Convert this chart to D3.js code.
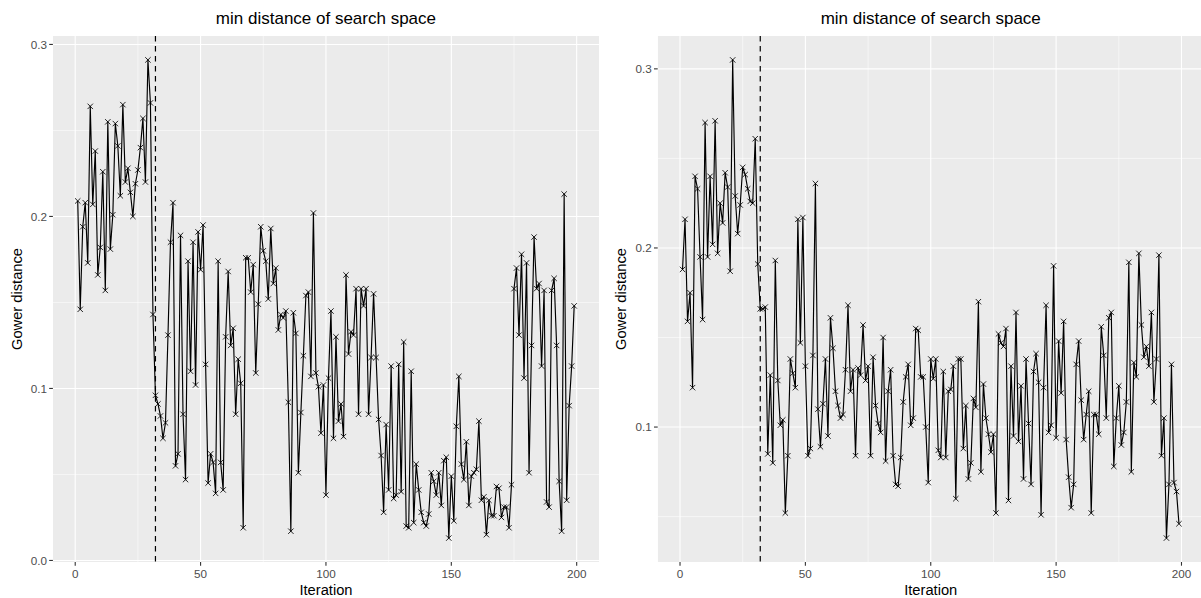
<!DOCTYPE html>
<html>
<head>
<meta charset="utf-8">
<script src="https://cdn.jsdelivr.net/npm/d3@7"></script>
<style>
  html, body { margin: 0; padding: 0; background: #ffffff; }
  svg { display: block; font-family: "Liberation Sans", Arial, sans-serif; }
</style>
</head>
<body>
<svg id="chart" width="1201" height="598"></svg>
<script>
// Minimum Gower distance to the search space at each iteration (two runs)
const iterations = d3.range(1, 200);

const leftValues = [
  0.209, 0.146, 0.194, 0.208, 0.173, 0.264, 0.207, 0.238, 0.166, 0.182,
  0.226, 0.157, 0.255, 0.181, 0.201, 0.254, 0.241, 0.212, 0.265, 0.220,
  0.228, 0.214, 0.200, 0.219, 0.227, 0.240, 0.257, 0.220, 0.291, 0.266,
  0.143, 0.096, 0.091, 0.084, 0.071, 0.080, 0.131, 0.185, 0.208, 0.055,
  0.062, 0.189, 0.085, 0.047, 0.174, 0.110, 0.185, 0.102, 0.191, 0.169,
  0.195, 0.114, 0.045, 0.062, 0.057, 0.039, 0.174, 0.057, 0.041, 0.130,
  0.168, 0.125, 0.135, 0.085, 0.117, 0.103, 0.019, 0.176, 0.176, 0.156,
  0.172, 0.109, 0.149, 0.194, 0.180, 0.174, 0.152, 0.193, 0.161, 0.170,
  0.134, 0.143, 0.141, 0.145, 0.092, 0.017, 0.144, 0.132, 0.051, 0.086,
  0.119, 0.154, 0.156, 0.107, 0.202, 0.109, 0.101, 0.074, 0.102, 0.038,
  0.106, 0.145, 0.071, 0.130, 0.081, 0.091, 0.072, 0.166, 0.120, 0.133,
  0.131, 0.158, 0.085, 0.158, 0.148, 0.158, 0.085, 0.118, 0.155, 0.118,
  0.082, 0.061, 0.028, 0.079, 0.041, 0.113, 0.036, 0.038, 0.114, 0.040,
  0.127, 0.020, 0.019, 0.110, 0.022, 0.056, 0.041, 0.028, 0.022, 0.020,
  0.027, 0.051, 0.046, 0.038, 0.051, 0.032, 0.058, 0.060, 0.013, 0.049,
  0.023, 0.078, 0.107, 0.056, 0.047, 0.069, 0.032, 0.049, 0.051, 0.053,
  0.081, 0.035, 0.037, 0.015, 0.035, 0.026, 0.026, 0.043, 0.042, 0.025,
  0.031, 0.031, 0.019, 0.044, 0.158, 0.170, 0.131, 0.178, 0.106, 0.173,
  0.051, 0.125, 0.188, 0.158, 0.161, 0.113, 0.157, 0.034, 0.031, 0.157,
  0.164, 0.125, 0.046, 0.017, 0.213, 0.035, 0.090, 0.113, 0.148
];

const rightValues = [
  0.188, 0.216, 0.159, 0.175, 0.122, 0.240, 0.233, 0.195, 0.160, 0.270,
  0.195, 0.240, 0.202, 0.271, 0.197, 0.225, 0.214, 0.242, 0.234, 0.187,
  0.305, 0.229, 0.208, 0.224, 0.245, 0.241, 0.233, 0.226, 0.225, 0.261,
  0.191, 0.166, 0.166, 0.167, 0.085, 0.129, 0.080, 0.193, 0.126, 0.101,
  0.104, 0.052, 0.084, 0.138, 0.130, 0.122, 0.216, 0.147, 0.217, 0.134,
  0.084, 0.088, 0.140, 0.236, 0.110, 0.089, 0.113, 0.138, 0.095, 0.161,
  0.144, 0.120, 0.112, 0.105, 0.107, 0.132, 0.168, 0.120, 0.132, 0.084,
  0.133, 0.129, 0.157, 0.126, 0.134, 0.084, 0.139, 0.112, 0.102, 0.097,
  0.150, 0.081, 0.120, 0.132, 0.084, 0.068, 0.067, 0.083, 0.114, 0.128,
  0.135, 0.101, 0.105, 0.155, 0.154, 0.128, 0.128, 0.100, 0.069, 0.138,
  0.127, 0.138, 0.087, 0.083, 0.131, 0.083, 0.120, 0.121, 0.134, 0.060,
  0.138, 0.138, 0.088, 0.112, 0.071, 0.080, 0.116, 0.111, 0.170, 0.075,
  0.124, 0.105, 0.096, 0.086, 0.096, 0.052, 0.152, 0.147, 0.145, 0.155,
  0.059, 0.134, 0.095, 0.164, 0.092, 0.123, 0.071, 0.138, 0.102, 0.068,
  0.131, 0.141, 0.125, 0.051, 0.122, 0.168, 0.097, 0.101, 0.190, 0.094,
  0.148, 0.119, 0.159, 0.093, 0.072, 0.055, 0.068, 0.135, 0.148, 0.115,
  0.093, 0.107, 0.120, 0.052, 0.107, 0.107, 0.096, 0.156, 0.140, 0.105,
  0.161, 0.164, 0.078, 0.105, 0.123, 0.090, 0.097, 0.114, 0.192, 0.075,
  0.136, 0.128, 0.197, 0.157, 0.139, 0.145, 0.134, 0.164, 0.114, 0.138,
  0.196, 0.084, 0.105, 0.038, 0.068, 0.135, 0.069, 0.064, 0.046
];

// iteration at which the search phase switches
const splitIteration = 32;

const xTicks = [0, 50, 100, 150, 200];
const xMinorTicks = [25, 75, 125, 175];
const leftYTicks = [0.0, 0.1, 0.2, 0.3];
const leftYMinor = [0.05, 0.15, 0.25];
const rightYTicks = [0.1, 0.2, 0.3];
const rightYMinor = [0.05, 0.15, 0.25];

const titleText = "min distance of search space";
const xTitle = "Iteration";
const yTitle = "Gower distance";

const svg = d3.select("#chart");

// ggplot-style 5% expansion on both sides of the data range
function expanded([lo, hi]) {
  const pad = (hi - lo) * 0.05;
  return [lo - pad, hi + pad];
}

function drawPanel(opts) {
  const { values, left, right, top, bottom, yTicks, yMinor, yTitleX } = opts;
  const data = iterations.map((it, i) => ({ it, v: values[i] }));

  const x = d3.scaleLinear()
    .domain(expanded(d3.extent(iterations)))
    .range([left, right]);
  const y = d3.scaleLinear()
    .domain(expanded(d3.extent(values)))
    .range([bottom, top]);

  const clipId = "clip-" + Math.round(left);
  svg.append("clipPath").attr("id", clipId)
    .append("rect").attr("x", left).attr("y", top)
    .attr("width", right - left).attr("height", bottom - top);

  const g = svg.append("g");
  const plot = g.append("g").attr("clip-path", `url(#${clipId})`);

  plot.append("rect")
    .attr("x", left).attr("y", top)
    .attr("width", right - left).attr("height", bottom - top)
    .attr("fill", "#EBEBEB");

  // minor grid
  plot.selectAll(".ymin").data(yMinor).join("line")
    .attr("x1", left).attr("x2", right)
    .attr("y1", d => y(d)).attr("y2", d => y(d))
    .attr("stroke", "#ffffff").attr("stroke-width", 0.55);
  plot.selectAll(".xmin").data(xMinorTicks).join("line")
    .attr("y1", top).attr("y2", bottom)
    .attr("x1", d => x(d)).attr("x2", d => x(d))
    .attr("stroke", "#ffffff").attr("stroke-width", 0.55);
  // major grid
  plot.selectAll(".ymaj").data(yTicks).join("line")
    .attr("x1", left).attr("x2", right)
    .attr("y1", d => y(d)).attr("y2", d => y(d))
    .attr("stroke", "#ffffff").attr("stroke-width", 1.1);
  plot.selectAll(".xmaj").data(xTicks).join("line")
    .attr("y1", top).attr("y2", bottom)
    .attr("x1", d => x(d)).attr("x2", d => x(d))
    .attr("stroke", "#ffffff").attr("stroke-width", 1.1);

  // series line
  plot.append("path")
    .datum(data)
    .attr("fill", "none")
    .attr("stroke", "#000000")
    .attr("stroke-width", 1.15)
    .attr("stroke-linejoin", "round")
    .attr("d", d3.line().x(d => x(d.it)).y(d => y(d.v)));

  // cross markers
  const s = 2.7;
  plot.selectAll(".pt").data(data).join("path")
    .attr("d", d => {
      const px = x(d.it), py = y(d.v);
      return `M${px - s},${py - s}L${px + s},${py + s}M${px - s},${py + s}L${px + s},${py - s}`;
    })
    .attr("stroke", "#000000")
    .attr("stroke-width", 0.85)
    .attr("fill", "none");

  // split marker
  plot.append("line")
    .attr("x1", x(splitIteration)).attr("x2", x(splitIteration))
    .attr("y1", top).attr("y2", bottom)
    .attr("stroke", "#000000")
    .attr("stroke-width", 1.2)
    .attr("stroke-dasharray", "5.5,4.5");

  // axes
  const tickLen = 3.7;
  const xAxis = g.append("g");
  xAxis.selectAll("line").data(xTicks).join("line")
    .attr("x1", d => x(d)).attr("x2", d => x(d))
    .attr("y1", bottom).attr("y2", bottom + tickLen)
    .attr("stroke", "#333333").attr("stroke-width", 1.1);
  xAxis.selectAll("text").data(xTicks).join("text")
    .attr("x", d => x(d)).attr("y", bottom + tickLen + 12.5)
    .attr("text-anchor", "middle")
    .attr("font-size", 11.7).attr("fill", "#4D4D4D")
    .text(d => d3.format("d")(d));

  const yAxis = g.append("g");
  yAxis.selectAll("line").data(yTicks).join("line")
    .attr("x1", left - tickLen).attr("x2", left)
    .attr("y1", d => y(d)).attr("y2", d => y(d))
    .attr("stroke", "#333333").attr("stroke-width", 1.1);
  yAxis.selectAll("text").data(yTicks).join("text")
    .attr("x", left - tickLen - 2.2).attr("y", d => y(d) + 4.2)
    .attr("text-anchor", "end")
    .attr("font-size", 11.7).attr("fill", "#4D4D4D")
    .text(d => d3.format(".1f")(d));

  // titles
  const cx = (left + right) / 2;
  g.append("text")
    .attr("x", cx).attr("y", 24)
    .attr("text-anchor", "middle")
    .attr("font-size", 17).attr("fill", "#000000")
    .text(titleText);
  g.append("text")
    .attr("x", cx).attr("y", 595)
    .attr("text-anchor", "middle")
    .attr("font-size", 14.7).attr("fill", "#000000")
    .text(xTitle);
  g.append("text")
    .attr("transform", `translate(${yTitleX},${(top + bottom) / 2}) rotate(-90)`)
    .attr("text-anchor", "middle")
    .attr("font-size", 14.7).attr("fill", "#000000")
    .text(yTitle);
}

drawPanel({
  values: leftValues,
  left: 52.9, right: 599.0, top: 36, bottom: 562,
  yTicks: leftYTicks, yMinor: leftYMinor, yTitleX: 22
});

drawPanel({
  values: rightValues,
  left: 657.7, right: 1203.8, top: 36, bottom: 562,
  yTicks: rightYTicks, yMinor: rightYMinor, yTitleX: 626
});
</script>
</body>
</html>
